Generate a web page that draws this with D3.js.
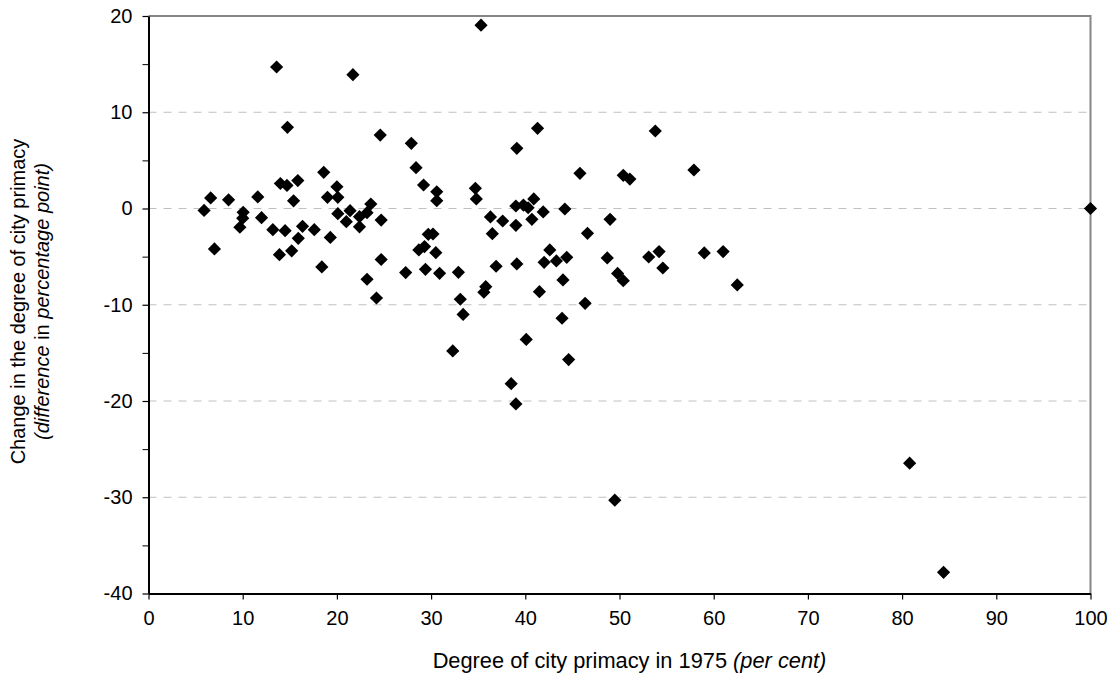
<!DOCTYPE html>
<html lang="en">
  <head>
    <meta charset="UTF-8" />
    <title>City primacy scatter</title>
    <script src="https://d3js.org/d3.v7.min.js"></script>
    <style>
      body { margin: 0; background: #fff; }
      svg text { font-family: Arial, "Liberation Sans", sans-serif; }
    </style>
  </head>
  <body>
    <div id="chart"></div>

    <script>
      // Degree of city primacy in 1975 (per cent)
      const primacy1975 = [
        5.9, 6.6, 7.0, 8.5, 10.05, 10.0, 9.7, 11.6, 12.0, 14.0,
        14.7, 15.85, 15.4, 13.2, 14.5, 13.9, 15.2, 15.9, 16.35, 17.6,
        18.6, 19.3, 19.0, 20.0, 20.1, 18.4, 20.1, 21.0, 21.4, 22.4,
        22.4, 23.2, 23.6, 24.7, 24.7, 23.2, 24.2, 24.6, 14.75, 13.6,
        21.7, 27.9, 28.4, 29.2, 30.6, 30.6, 34.7, 34.8, 39.1, 41.3,
        45.8, 50.4, 51.1, 39.0, 39.8, 40.3, 40.9, 41.9, 40.7, 39.0,
        37.6, 36.3, 36.5, 44.2, 49.0, 46.6, 30.2, 29.7, 29.3, 28.7,
        30.5, 27.3, 29.4, 30.9, 32.9, 33.1, 35.8, 35.6, 36.9, 39.1,
        42.6, 42.0, 43.3, 44.4, 44.0, 41.5, 46.35, 48.7, 49.8, 50.4,
        33.4, 43.9, 40.1, 32.3, 44.6, 38.5, 39.0, 57.9, 53.1, 54.2,
        54.6, 59.0, 61.0, 62.5, 53.8, 35.3, 100, 80.8, 84.4, 49.5
      ];

      // Change in the degree of city primacy (percentage points)
      const primacyChange = [
        -0.2, 1.1, -4.2, 0.9, -0.4, -1.0, -1.95, 1.2, -0.95, 2.6,
        2.4, 2.9, 0.8, -2.2, -2.3, -4.8, -4.4, -3.1, -1.85, -2.2,
        3.76, -3.0, 1.16, 2.26, 1.16, -6.07, -0.54, -1.37, -0.23, -1.9,
        -0.85, -0.43, 0.47, -1.2, -5.3, -7.35, -9.3, 7.63, 8.43, 14.7,
        13.9, 6.77, 4.24, 2.44, 1.74, 0.81, 2.1, 0.99, 6.25, 8.33,
        3.65, 3.45, 3.06, 0.26, 0.36, 0.08, 0.99, -0.36, -1.12, -1.75,
        -1.3, -0.88, -2.62, -0.05, -1.12, -2.58, -2.65, -2.68, -3.96, -4.3,
        -4.59, -6.66, -6.32, -6.73, -6.63, -9.43, -8.12, -8.7, -6.0, -5.76,
        -4.3, -5.59, -5.45, -5.07, -7.42, -8.64, -9.85, -5.14, -6.75, -7.5,
        -11.0, -11.4, -13.6, -14.8, -15.7, -18.2, -20.3, 4.0, -5.04, -4.48,
        -6.18, -4.62, -4.48, -7.94, 8.05, 19.05, 0, -26.46, -37.8, -30.3
      ];

      const xTicks = [0, 10, 20, 30, 40, 50, 60, 70, 80, 90, 100];
      const yTicks = [-40, -30, -20, -10, 0, 10, 20];
      const yMinorTicks = [-35, -25, -15, -5, 5, 15];

      const data = primacy1975.map((x, i) => ({ x: x, y: primacyChange[i] }));

      // Set dimensions and margins for the graph
      const margin = { top: 16, right: 23.5, bottom: 83.5, left: 148.5 },
        width = 1114 - margin.left - margin.right,
        height = 677 - margin.top - margin.bottom;

      const svg = d3
        .select("#chart")
        .append("svg")
        .attr("width", 1114)
        .attr("height", 677)
        .append("g")
        .attr("transform", `translate(${margin.left},${margin.top})`);

      const x = d3.scaleLinear().domain([0, 100]).range([0, width]);
      const y = d3.scaleLinear().domain([-40, 20]).range([height, 0]);

      // dashed gridlines
      svg
        .append("g")
        .selectAll("line")
        .data(yTicks.filter((d) => d > -40 && d < 20))
        .join("line")
        .attr("x1", 0)
        .attr("x2", width)
        .attr("y1", (d) => y(d))
        .attr("y2", (d) => y(d))
        .attr("stroke", "#c0c0c0")
        .attr("stroke-width", 1)
        .attr("stroke-dasharray", "8,7");

      // gray frame on top and right
      svg
        .append("path")
        .attr("d", `M0,0H${width}V${height}`)
        .attr("fill", "none")
        .attr("stroke", "#868686")
        .attr("stroke-width", 2);

      // plain hyphen for negatives, like the original
      const fmt = (d) => String(d);

      // Y axis
      const yAxis = svg
        .append("g")
        .call(
          d3.axisLeft(y).tickValues(yTicks).tickFormat(fmt).tickSize(6).tickPadding(10).tickSizeOuter(0)
        );
      svg
        .append("g")
        .call(
          d3.axisLeft(y).tickValues(yMinorTicks).tickSize(6).tickFormat("").tickSizeOuter(0)
        )
        .select(".domain")
        .remove();

      // X axis
      const xAxis = svg
        .append("g")
        .attr("transform", `translate(0, ${height})`)
        .call(
          d3.axisBottom(x).tickValues(xTicks).tickFormat(fmt).tickSize(6).tickPadding(11).tickSizeOuter(0)
        );

      [yAxis, xAxis].forEach((ax) => {
        ax.select(".domain").attr("stroke", "#000").attr("stroke-width", 2);
        ax.selectAll(".tick line").attr("stroke", "#000").attr("stroke-width", 1.2);
        ax.selectAll(".tick text")
          .attr("font-size", 20)
          .attr("font-family", "Arial, 'Liberation Sans', sans-serif")
          .attr("fill", "#000");
      });

      // diamond markers
      const r = 6.6;
      svg
        .append("g")
        .selectAll("path")
        .data(data)
        .join("path")
        .attr("transform", (d) => `translate(${x(d.x)},${y(d.y)})`)
        .attr("d", `M0,${-r}L${r},0L0,${r}L${-r},0Z`)
        .attr("fill", "#000");

      // X axis title
      const xt = d3
        .select("svg")
        .append("text")
        .attr("x", 629.5)
        .attr("y", 668)
        .attr("text-anchor", "middle")
        .attr("font-size", 21.8)
        .attr("fill", "#000");
      xt.append("tspan").text("Degree of city primacy in 1975 ");
      xt.append("tspan").attr("font-style", "italic").text("(per cent)");

      // Y axis title, two lines
      const yt = d3
        .select("svg")
        .append("g")
        .attr("transform", "translate(0,301.5) rotate(-90)");
      yt.append("text")
        .attr("x", 0)
        .attr("y", 25)
        .attr("text-anchor", "middle")
        .attr("font-size", 20)
        .attr("fill", "#000")
        .text("Change in the degree of city primacy");
      const yt2 = yt
        .append("text")
        .attr("x", 0)
        .attr("y", 49)
        .attr("text-anchor", "middle")
        .attr("font-size", 20)
        .attr("fill", "#000");
      yt2.append("tspan").attr("font-style", "italic").text("(difference ");
      yt2.append("tspan").text("in ");
      yt2.append("tspan").attr("font-style", "italic").text("percentage point)");
    </script>
  </body>
</html>
